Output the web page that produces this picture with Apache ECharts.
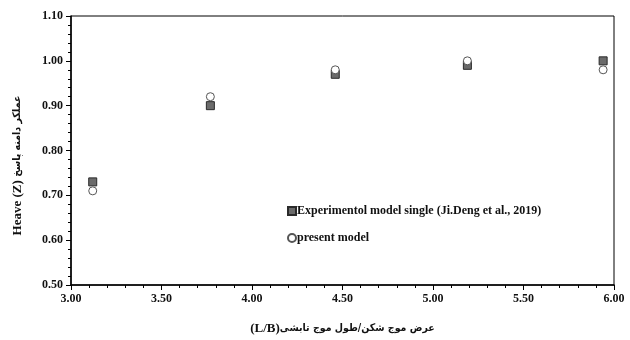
<!DOCTYPE html>
<html dir="ltr">
<head>
<meta charset="utf-8">
<script src="https://cdn.jsdelivr.net/npm/echarts@6/dist/echarts.min.js"></script>
<style>
  html, body { margin: 0; padding: 0; background: #fff; }
  #chart { width: 630px; height: 340px; }
</style>
</head>
<body>
<div id="chart"></div>
<script>
// L/B ratio at each test case
const ratioLB = [3.12, 3.77, 4.46, 5.19, 5.94];
// Heave response amplitude, experiment (Ji.Deng et al., 2019)
const heaveExperiment = [0.73, 0.90, 0.97, 0.99, 1.00];
// Heave response amplitude, present model
const heavePresent = [0.71, 0.92, 0.98, 1.00, 0.98];

const seriesNames = ['Experimentol model single (Ji.Deng et al., 2019)', 'present model'];

const serif = '"Liberation Serif", "Times New Roman", serif';
const persian = '"DejaVu Sans Condensed", "DejaVu Sans", sans-serif';

const pairs = (xs, ys) => xs.map((x, i) => [x, ys[i]]);

const nameRich = {
  en: { color: '#111', fontFamily: serif, fontWeight: 'bold', fontSize: 13 },
  fa: { color: '#111', fontFamily: persian, fontWeight: 'bold', fontSize: 10.5 }
};

const chart = echarts.init(document.getElementById('chart'), null, { renderer: 'canvas' });

const axisCommon = {
  axisLine: { show: true, onZero: false, lineStyle: { color: '#000', width: 1.5 } },
  axisTick: { show: true, inside: false, length: 5, lineStyle: { color: '#000', width: 1 } },
  minorTick: { show: true, splitNumber: 5, length: 3, lineStyle: { color: '#000', width: 1 } },
  splitLine: { show: false },
  minorSplitLine: { show: false },
  axisLabel: {
    color: '#111', fontFamily: serif, fontWeight: 'bold', fontSize: 12,
    formatter: v => v.toFixed(2)
  }
};

chart.setOption({
  animation: false,
  backgroundColor: '#fff',
  grid: {
    left: 71, right: 16, top: 16, bottom: 54,
    show: true, borderColor: '#000', borderWidth: 1
  },
  legend: {
    orient: 'vertical',
    left: 282, top: 200,
    itemWidth: 8, itemHeight: 8, itemGap: 15,
    textStyle: { fontFamily: serif, fontWeight: 'bold', fontSize: 12, color: '#111', padding: [0, 0, 0, -4] },
    data: [
      { name: seriesNames[0], icon: 'rect' },
      { name: seriesNames[1], icon: 'circle' }
    ]
  },
  xAxis: Object.assign({}, axisCommon, {
    type: 'value', min: 3, max: 6, interval: 0.5,
    name: '{en|(L/B)}{fa|عرض موج شکن/طول موج تابشی}',
    nameLocation: 'middle', nameGap: 37,
    nameTextStyle: { rich: nameRich },
    axisLabel: Object.assign({}, axisCommon.axisLabel, { margin: 8 })
  }),
  yAxis: Object.assign({}, axisCommon, {
    type: 'value', min: 0.5, max: 1.1, interval: 0.1,
    name: '{en|Heave (Z)} {fa|عملکر دامنه پاسخ}',
    nameLocation: 'middle', nameGap: 47,
    nameTextStyle: { rich: nameRich, padding: [0, 30, 0, 0] },
    axisLabel: Object.assign({}, axisCommon.axisLabel, { margin: 8 })
  }),
  series: [
    {
      name: seriesNames[0], type: 'scatter', symbol: 'rect', symbolSize: 8,
      itemStyle: { color: '#6b6b6b', borderColor: '#2a2a2a', borderWidth: 1, opacity: 1 },
      data: pairs(ratioLB, heaveExperiment), z: 2
    },
    {
      name: seriesNames[1], type: 'scatter', symbol: 'circle', symbolSize: 8,
      itemStyle: { color: '#fff', borderColor: '#555', borderWidth: 1, opacity: 1 },
      data: pairs(ratioLB, heavePresent), z: 3
    }
  ]
});
</script>
</body>
</html>
